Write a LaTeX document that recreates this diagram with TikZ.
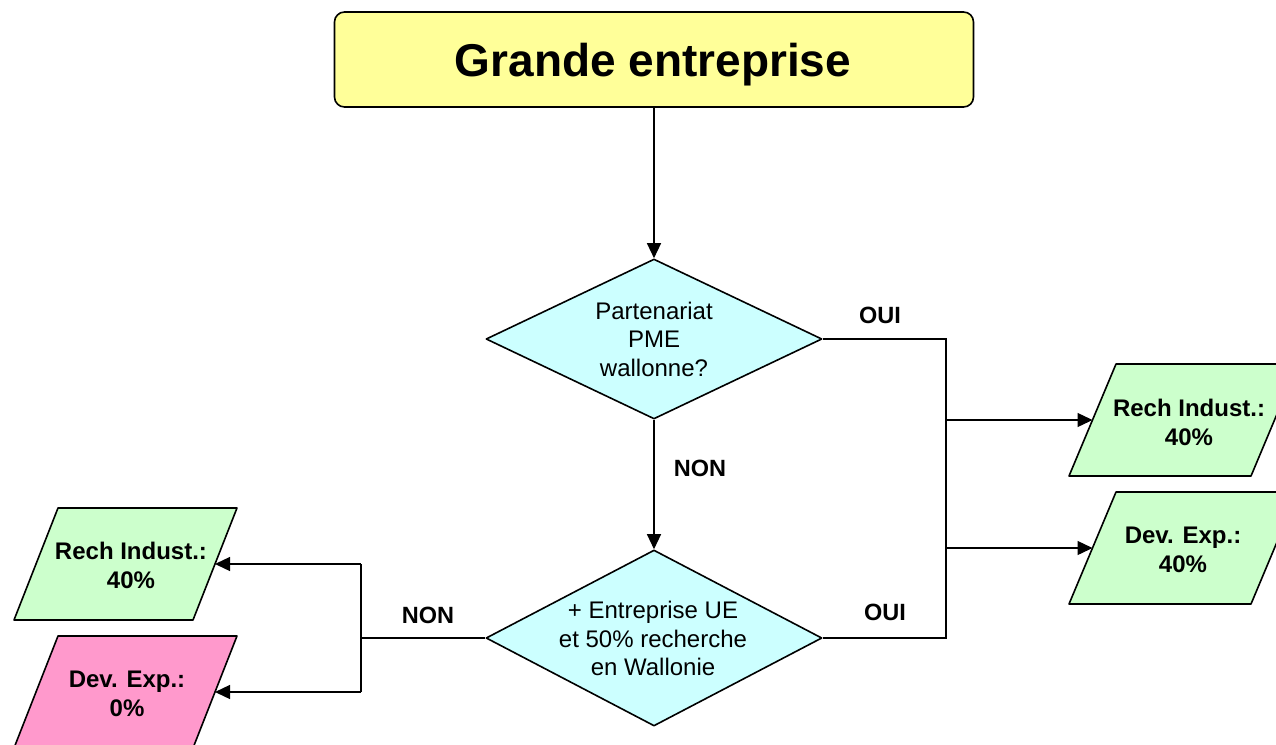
\documentclass[tikz,border=0pt]{standalone}
\usepackage{fontspec}
\setmainfont{Liberation Sans}
\usetikzlibrary{shapes.geometric,arrows.meta}
\definecolor{titlefill}{HTML}{FFFF99}
\definecolor{decfill}{HTML}{CCFFFF}
\definecolor{okfill}{HTML}{CCFFCC}
\definecolor{nofill}{HTML}{FF99CC}
\tikzset{
  shapeline/.style={draw=black, line width=1.6pt, line join=round},
  conn/.style={draw=black, line width=1.3pt},
  arr/.style={conn, -{Triangle[length=15pt,width=14pt]}},
  decision/.style={shapeline, diamond, fill=decfill, inner sep=0pt, minimum width=336pt, minimum height=160pt},
  dectext/.style={align=center, font=\fontsize{24}{28.5}\selectfont, inner sep=0pt},
  restext/.style={align=center, font=\bfseries\fontsize{24}{29}\selectfont, inner sep=0pt},
  lbl/.style={font=\bfseries\fontsize{23.5}{28}\selectfont, inner sep=0pt},
}
\begin{document}
\begin{tikzpicture}[x=1pt,y=-1pt]
\clip (0,0) rectangle (1276,744);
\fill[white] (0,0) rectangle (1276,744);

% title
\node[shapeline, fill=titlefill, rounded corners=10pt, minimum width=639pt, minimum height=95pt, inner sep=0pt] (top) at (654,59.5) {};
\node[anchor=base, inner sep=0pt, font=\bfseries\fontsize{46}{54}\selectfont] (topt) at (653,76) {Grande entreprise};

% decisions
\node[decision] (d1) at (654,339) {};
\node[dectext] (d1t) at (d1.center) {Partenariat\\PME\\wallonne?};
\node[decision, minimum height=176pt] (d2) at (654,638) {};
\node[dectext] (d2t) at (653,638.5) {+ Entreprise UE\\et 50\% recherche\\en Wallonie};

% right results
\draw[shapeline, fill=okfill] (1069,476) -- (1116,364) -- (1298,364) -- (1251,476) -- cycle;
\node[restext] (r1) at (1189,422) {Rech Indust.:\\40\%};
\coordinate (r1in) at (1092.5,420);
\draw[shapeline, fill=okfill] (1069,604) -- (1116,492) -- (1298,492) -- (1251,604) -- cycle;
\node[restext] (r2) at (1183,550) {Dev. Exp.:\\40\%};
\coordinate (r2in) at (1092.5,548);

% left results
\draw[shapeline, fill=okfill] (14,620) -- (58,508) -- (237,508) -- (193,620) -- cycle;
\node[restext] (l1) at (131,565) {Rech Indust.:\\40\%};
\coordinate (l1in) at (215,564);
\draw[shapeline, fill=nofill] (14,748) -- (58,636) -- (237,636) -- (193,748) -- cycle;
\node[restext] (l2) at (127,694) {Dev. Exp.:\\0\%};
\coordinate (l2in) at (215,692);

% connectors
\draw[arr] (top.south) -- (d1.north);
\draw[arr] (d1.south) -- (d2.north);

\coordinate (rj) at (946,638);
\coordinate (b1) at (946,420);
\coordinate (b2) at (946,548);
\draw[conn] (d1.east) -| (rj) -- (d2.east);
\draw[arr] (b1) -- (r1in);
\draw[arr] (b2) -- (r2in);

\coordinate (lj) at (361,638);
\coordinate (lt) at (361,564);
\coordinate (lb) at (361,692);
\draw[conn] (d2.west) -- (lj);
\draw[conn] (lt) -- (lb);
\draw[arr] (lt) -- (l1in);
\draw[arr] (lb) -- (l2in);

% labels
\node[lbl] (oui1) at (880,315) {OUI};
\node[lbl] (oui2) at (885,612) {OUI};
\node[lbl] (non1) at (700,468) {NON};
\node[lbl] (non2) at (428,615) {NON};
\end{tikzpicture}
\end{document}
